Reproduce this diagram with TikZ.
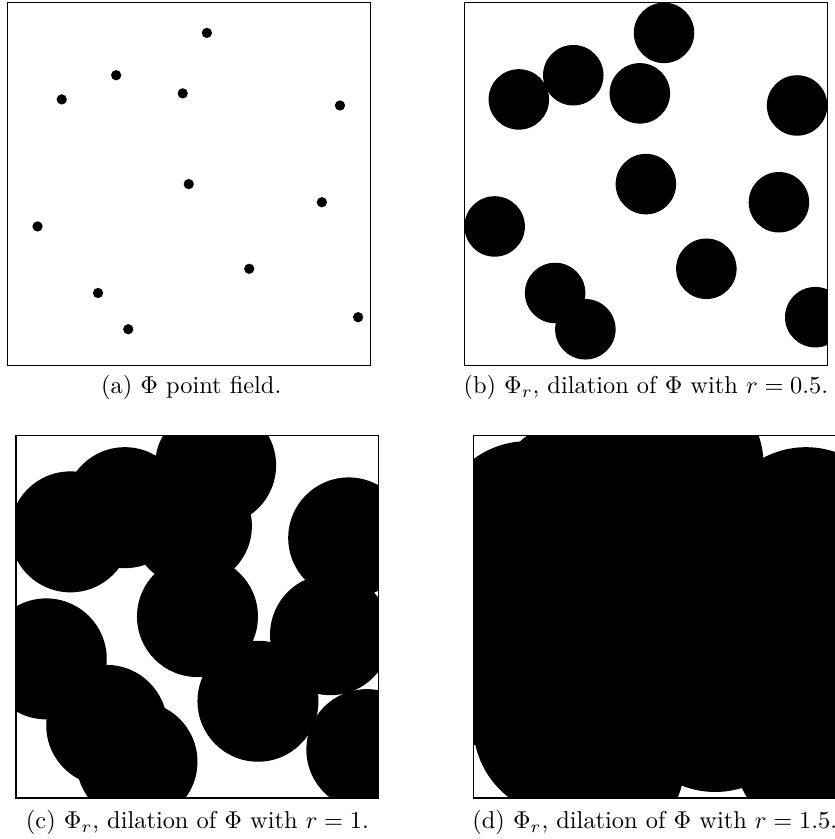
\documentclass[tikz,border=0pt]{standalone}
\tikzset{
  panelbox/.style={draw=black, line width=0.45pt},
  blob/.style={fill=black},
  caplabel/.style={anchor=base, inner sep=0pt, font=\normalsize}
}
\newcommand\pointset{(3.3,5.5),(1.8,4.8),(0.9,4.4),(2.9,4.5),(5.5,4.3),(3.0,3.0),(5.2,2.7),(0.5,2.3),(4.0,1.6),(1.5,1.2),(5.8,0.8),(2.0,0.6)}
\newcommand\dilpanel[4]{%
  \begin{scope}[shift={(#1,#2)}, x=24.8pt, y=24.8pt]
    \begin{scope}
      \clip (0,0) rectangle (6,6);
      \foreach \p in \pointset { \fill[blob] \p circle[radius=#3]; }
    \end{scope}
    \draw[panelbox] (0,0) rectangle (6,6);
    \coordinate (#4) at (3,0);
  \end{scope}}
\begin{document}
\begin{tikzpicture}[x=1pt,y=1pt]
\useasboundingbox (0,0) rectangle (341.94,343.99);
\dilpanel{2.99}{194.1}{0.085}{pa}
\dilpanel{190.4}{194.1}{0.5}{pb}
\dilpanel{6.56}{16.8}{1}{pc}
\dilpanel{194.05}{16.8}{1.5}{pd}
\node[caplabel] (capa) at ([xshift=1pt,yshift=-11.5pt]pa) {(a) $\Phi$ point field.};
\node[caplabel] (capb) at ([yshift=-11.5pt]pb) {(b) $\Phi_r$, dilation of $\Phi$ with $r=0.5$.};
\node[caplabel] (capc) at ([yshift=-12.5pt]pc) {(c) $\Phi_r$, dilation of $\Phi$ with $r=1$.};
\node[caplabel] (capd) at ([yshift=-12.5pt]pd) {(d) $\Phi_r$, dilation of $\Phi$ with $r=1.5$.};
\end{tikzpicture}
\end{document}
